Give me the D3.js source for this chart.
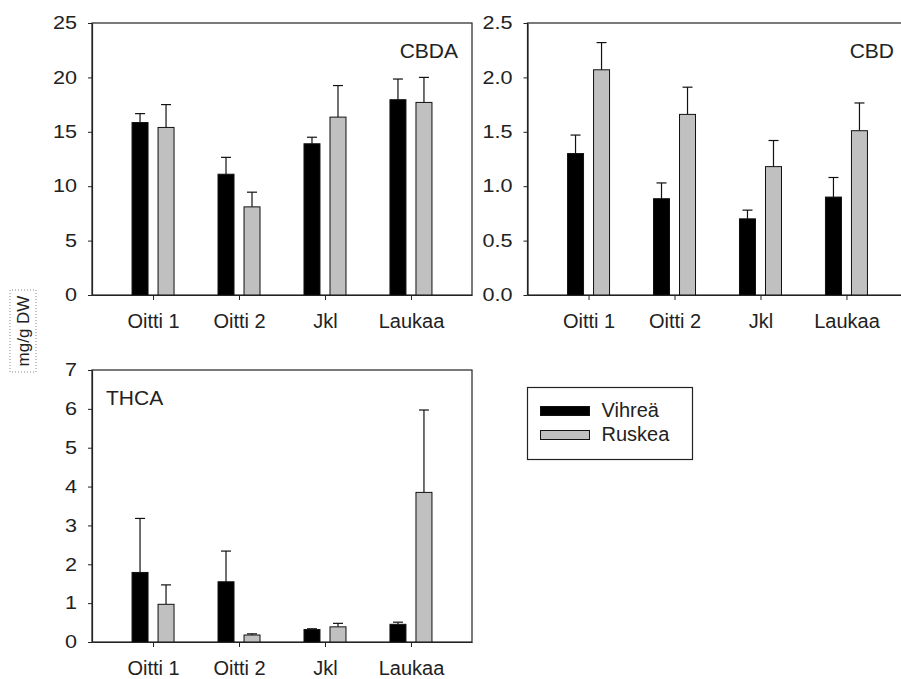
<!DOCTYPE html>
<html>
<head>
<meta charset="utf-8">
<script src="https://cdn.jsdelivr.net/npm/d3@7"></script>
<style>
  html, body { margin: 0; padding: 0; background: #fff; }
  svg { display: block; font-family: "Liberation Sans", Arial, sans-serif; }
</style>
</head>
<body>
<svg id="chart" width="901" height="679"></svg>
<script>
// Sites and sample types
const categories = ["Oitti 1", "Oitti 2", "Jkl", "Laukaa"];
const seriesNames = ["Vihreä", "Ruskea"];

// CBDA, mg/g DW (mean and upper error)
const cbdaVihrea = [15.85, 11.1, 13.9, 17.95];
const cbdaVihreaErr = [0.82, 1.55, 0.6, 1.9];
const cbdaRuskea = [15.4, 8.1, 16.35, 17.7];
const cbdaRuskeaErr = [2.1, 1.35, 2.9, 2.3];

// CBD, mg/g DW
const cbdVihrea = [1.30, 0.885, 0.70, 0.90];
const cbdVihreaErr = [0.17, 0.145, 0.08, 0.18];
const cbdRuskea = [2.07, 1.66, 1.18, 1.51];
const cbdRuskeaErr = [0.25, 0.25, 0.24, 0.255];

// THCA, mg/g DW
const thcaVihrea = [1.79, 1.55, 0.32, 0.455];
const thcaVihreaErr = [1.39, 0.79, 0.02, 0.055];
const thcaRuskea = [0.97, 0.18, 0.39, 3.85];
const thcaRuskeaErr = [0.5, 0.03, 0.09, 2.12];

// Axis ticks
const cbdaTicks = [0, 5, 10, 15, 20, 25];
const cbdTicks = [0, 0.5, 1.0, 1.5, 2.0, 2.5];
const thcaTicks = [0, 1, 2, 3, 4, 5, 6, 7];

const yLabel = "mg/g DW";
const fills = { "Vihreä": "#000000", "Ruskea": "#c0c0c0" };
const ink = "#222";
const tickStretch = 1.2; // y tick labels use a slightly wide face

const svg = d3.select("#chart");

function panel(opts) {
  const { x0, y0, w, h, title, titleAnchor, titleX, titleY,
          v1, e1, v2, e2, ticks, fmt } = opts;
  const g = svg.append("g").attr("transform", `translate(${x0},${y0})`);

  const x = d3.scalePoint().domain(categories).range([0, w]).padding(0.71);
  const xs = d3.scaleBand().domain(seriesNames).range([-21, 21]).paddingInner(0.385);
  const y = d3.scaleLinear().domain([ticks[0], ticks[ticks.length - 1]]).range([h, 0]);

  // frame
  g.append("rect").attr("x", 0).attr("y", 0).attr("width", w).attr("height", h)
    .attr("fill", "none").attr("stroke", ink).attr("stroke-width", 1.2);

  const rows = [];
  categories.forEach((c, i) => {
    rows.push({ cat: c, s: seriesNames[0], v: v1[i], e: e1[i] });
    rows.push({ cat: c, s: seriesNames[1], v: v2[i], e: e2[i] });
  });

  const bars = g.append("g");
  const cx = d => x(d.cat) + xs(d.s) + xs.bandwidth() / 2;
  // error bars (upper only)
  bars.selectAll("line.err").data(rows).join("line").attr("class", "err")
    .attr("x1", cx).attr("x2", cx)
    .attr("y1", d => y(d.v)).attr("y2", d => y(d.v + d.e))
    .attr("stroke", "#111").attr("stroke-width", 1.2);
  bars.selectAll("line.cap").data(rows).join("line").attr("class", "cap")
    .attr("x1", d => cx(d) - 5).attr("x2", d => cx(d) + 5)
    .attr("y1", d => y(d.v + d.e)).attr("y2", d => y(d.v + d.e))
    .attr("stroke", "#111").attr("stroke-width", 1.2);
  bars.selectAll("rect").data(rows).join("rect")
    .attr("x", d => x(d.cat) + xs(d.s))
    .attr("width", xs.bandwidth())
    .attr("y", d => y(d.v))
    .attr("height", d => h - y(d.v))
    .attr("fill", d => fills[d.s])
    .attr("stroke", "#111").attr("stroke-width", 1);

  // axes
  const ya = g.append("g").call(d3.axisLeft(y).tickValues(ticks).tickFormat(fmt)
    .tickSize(4).tickSizeOuter(0).tickPadding(11));
  ya.select(".domain").attr("stroke", ink).attr("stroke-width", 1.2);
  ya.selectAll(".tick line").attr("stroke", ink);
  ya.selectAll("text").attr("fill", ink).style("font-size", "18px")
    .style("font-family", "'Liberation Sans', Arial, sans-serif")
    .each(function () {
      const t = d3.select(this);
      t.attr("x", +t.attr("x") / tickStretch)
       .attr("transform", `scale(${tickStretch},1)`);
    });

  const xa = g.append("g").attr("transform", `translate(0,${h})`)
    .call(d3.axisBottom(x).tickSize(5).tickSizeOuter(0).tickPadding(14));
  xa.select(".domain").attr("stroke", ink).attr("stroke-width", 1.2);
  xa.selectAll(".tick line").attr("stroke", ink);
  xa.selectAll("text").attr("fill", ink).style("font-size", "20px")
    .style("font-family", "'Liberation Sans', Arial, sans-serif");

  g.append("text").attr("x", titleX).attr("y", titleY)
    .attr("text-anchor", titleAnchor).attr("fill", ink)
    .style("font-size", "21px").text(title);
}

panel({ x0: 92, y0: 23, w: 380, h: 272, title: "CBDA", titleAnchor: "end", titleX: 366, titleY: 35,
        v1: cbdaVihrea, e1: cbdaVihreaErr, v2: cbdaRuskea, e2: cbdaRuskeaErr,
        ticks: cbdaTicks, fmt: d3.format("d") });
panel({ x0: 527.5, y0: 23, w: 380, h: 272, title: "CBD", titleAnchor: "end", titleX: 366.5, titleY: 35,
        v1: cbdVihrea, e1: cbdVihreaErr, v2: cbdRuskea, e2: cbdRuskeaErr,
        ticks: cbdTicks, fmt: d3.format(".1f") });
panel({ x0: 92, y0: 370, w: 380, h: 272, title: "THCA", titleAnchor: "start", titleX: 14, titleY: 35,
        v1: thcaVihrea, e1: thcaVihreaErr, v2: thcaRuskea, e2: thcaRuskeaErr,
        ticks: thcaTicks, fmt: d3.format("d") });

// shared y-axis title with its dotted frame
const yl = svg.append("g").attr("transform", "translate(23,331) rotate(-90)");
yl.append("rect").attr("x", -41).attr("y", -13).attr("width", 82).attr("height", 26)
  .attr("fill", "none").attr("stroke", "#888").attr("stroke-width", 1)
  .attr("stroke-dasharray", "1,2");
yl.append("text").attr("text-anchor", "middle").attr("dy", "0.35em")
  .attr("fill", ink).style("font-size", "17px").text(yLabel);

// legend
const lg = svg.append("g").attr("transform", "translate(527.5,387.5)");
lg.append("rect").attr("width", 165).attr("height", 72)
  .attr("fill", "#fff").attr("stroke", ink).attr("stroke-width", 1.2);
seriesNames.forEach((s, i) => {
  const row = lg.append("g").attr("transform", `translate(0,${19 + i * 24})`);
  row.append("rect").attr("x", 13).attr("y", 0).attr("width", 49).attr("height", 9)
    .attr("fill", fills[s]).attr("stroke", "#111").attr("stroke-width", 1);
  row.append("text").attr("x", 74).attr("y", 10).attr("fill", ink)
    .style("font-size", "20px").text(s);
});
</script>
</body>
</html>
